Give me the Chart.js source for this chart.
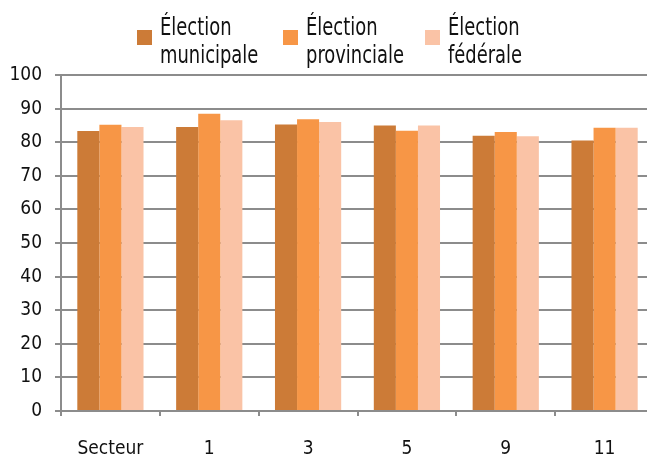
<!DOCTYPE html>
<html>
<head>
<meta charset="utf-8">
<script src="https://cdn.jsdelivr.net/npm/chart.js@4"></script>
<style>
  body { margin: 0; overflow: hidden; background: #fff; width: 647px; height: 459px; position: relative; }
  .leg { position: absolute; top: 13px; font-family: 'DejaVu Sans Condensed', 'Liberation Sans Narrow', sans-serif; font-size: 24px; line-height: 28px; color: #111; transform: scaleX(0.83); transform-origin: left top; white-space: nowrap; }
  .box { position: absolute; width: 15px; height: 15px; top: 30px; }
</style>
</head>
<body>
<div id="legend"></div>
<canvas id="chart" width="660" height="459"></canvas>
<script>
// data
const sectors = ["Secteur", "1", "3", "5", "9", "11"];
const municipale = [83.3, 84.5, 85.3, 85.0, 81.9, 80.5];
const provinciale = [85.2, 88.5, 86.8, 83.4, 83.0, 84.3];
const federale = [84.5, 86.5, 86.0, 85.0, 81.8, 84.3];
const seriesNames = [["Élection", "municipale"], ["Élection", "provinciale"], ["Élection", "fédérale"]];
const seriesColors = ["#CC7B37", "#F79646", "#FAC3A6"];

const font = "'DejaVu Sans Condensed', 'Liberation Sans Narrow', sans-serif";

// legend (html, two-line labels)
const legendX = [137, 283, 425];
const legend = document.getElementById("legend");
seriesNames.forEach((name, i) => {
    const box = document.createElement("div");
    box.className = "box";
    box.style.left = legendX[i] + "px";
    box.style.background = seriesColors[i];
    legend.appendChild(box);
    const txt = document.createElement("div");
    txt.className = "leg";
    txt.style.left = (legendX[i] + 23) + "px";
    txt.innerHTML = name.join("<br>");
    legend.appendChild(txt);
});

const ctx = document.getElementById("chart").getContext("2d");
new Chart(ctx, {
    type: "bar",
    data: {
        labels: sectors,
        datasets: [municipale, provinciale, federale].map((vals, i) => ({
            label: seriesNames[i].join(" "),
            data: vals,
            backgroundColor: seriesColors[i],
            borderWidth: 0,
            categoryPercentage: 0.67,
            barPercentage: 1.0
        }))
    },
    options: {
        responsive: false,
        animation: false,
        layout: { padding: { top: 75, right: 6, left: 0, bottom: 0 } },
        plugins: {
            legend: { display: false },
            tooltip: { enabled: false }
        },
        scales: {
            x: {
                afterFit: s => { s.height = 48; },
                grid: { drawOnChartArea: false, drawTicks: true, tickLength: 5, color: "#8c8c8c", lineWidth: 2 },
                border: { color: "#8c8c8c", width: 2 },
                ticks: { color: "#111", font: { family: font, size: 19 }, padding: 22 }
            },
            y: {
                min: 0,
                max: 100,
                afterFit: s => { s.width = 61; },
                grid: { color: "#8c8c8c", lineWidth: 2, tickLength: 6 },
                border: { color: "#8c8c8c", width: 2 },
                ticks: { stepSize: 10, color: "#111", font: { family: font, size: 19 }, padding: 13 }
            }
        }
    }
});
</script>
</body>
</html>
